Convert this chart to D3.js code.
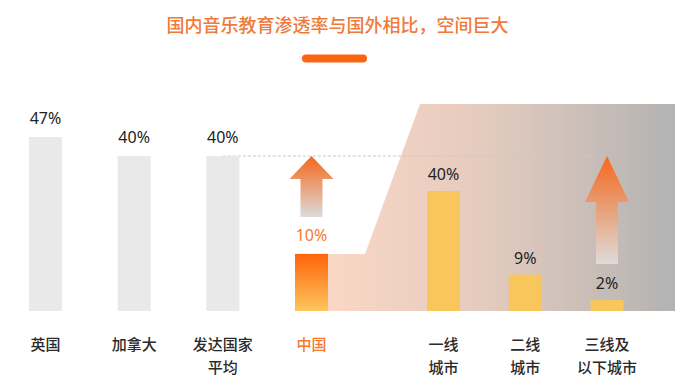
<!DOCTYPE html>
<html>
<head>
<meta charset="utf-8">
<script src="https://d3js.org/d3.v7.min.js"></script>
<style>
  body { margin: 0; background: #fff; }
  svg { display: block; }
</style>
</head>
<body>
<svg id="chart" width="675" height="385"></svg>
<script>
// data
var title = "国内音乐教育渗透率与国外相比，空间巨大";
var countryNames = ["英国", "加拿大", "发达国家平均", "中国"];
var countryValues = [47, 40, 40, 10];
var countryLines = [["英国"], ["加拿大"], ["发达国家", "平均"], ["中国"]];
var cityNames = ["一线城市", "二线城市", "三线及以下城市"];
var cityValues = [40, 9, 2];
var cityLines = [["一线", "城市"], ["二线", "城市"], ["三线及", "以下城市"]];

var svg = d3.select("#chart");
var baseY = 311, barW = 33;
var cjk = "'Noto Sans CJK SC', sans-serif";
var num = "'Noto Sans', 'Liberation Sans', sans-serif";

// scales (infographic style, compressed power scales)
var xC = d3.scalePoint().domain(countryNames).range([45.5, 311.5]);
var xT = d3.scalePoint().domain(cityNames).range([443.5, 607]);
var yC = d3.scalePow().exponent(0.72).domain([0, 47]).range([baseY, 137]);
var yT = d3.scalePow().exponent(0.8).domain([0, 40]).range([baseY, 191]);

var countries = countryNames.map(function (n, i) { return { name: n, value: countryValues[i], lines: countryLines[i] }; });
var cities = cityNames.map(function (n, i) { return { name: n, value: cityValues[i], lines: cityLines[i] }; });

var defs = svg.append("defs");
function grad(id, x1, y1, x2, y2, stops) {
  var g = defs.append("linearGradient").attr("id", id)
    .attr("x1", x1).attr("y1", y1).attr("x2", x2).attr("y2", y2);
  stops.forEach(function (s) {
    g.append("stop").attr("offset", s[0]).attr("stop-color", s[1]);
  });
}
grad("bgGrad", 0, 0, 1, 0, [[0, "#FAD7C5"], [0.45, "#E4CBBE"], [1, "#B3B3B3"]]);
grad("cnGrad", 0, 0, 0, 1, [[0, "#FF630A"], [1, "#FDC65E"]]);
grad("arrowGrad", 0, 0, 0, 1, [[0, "#F5671C"], [1, "#DDDBDA"]]);

// title
svg.append("text")
  .attr("x", 337.5).attr("y", 32)
  .attr("text-anchor", "middle")
  .style("font-family", cjk).style("font-size", "18px").style("font-weight", 500)
  .style("fill", "#EF7A3C")
  .text(title);
svg.append("rect")
  .attr("x", 302).attr("y", 54.5).attr("width", 65).attr("height", 8).attr("rx", 4)
  .style("fill", "#FA6511");

// background panel behind city bars
var cnRight = xC("中国") + barW / 2;
var cnTop = yC(10);
svg.append("path")
  .attr("d", d3.line()([[cnRight, baseY], [cnRight, cnTop], [365, cnTop], [420, 104], [675, 104], [675, baseY]]) + "Z")
  .style("fill", "url(#bgGrad)");

// dashed reference line at 40%
svg.append("line")
  .attr("x1", xC("发达国家平均")).attr("x2", xT("三线及以下城市") - 15)
  .attr("y1", yC(40)).attr("y2", yC(40))
  .style("stroke", "#C9C9C9").style("stroke-width", 1).style("stroke-dasharray", "3,2");

// bars
svg.selectAll(".cbar").data(countries).enter().append("rect")
  .attr("class", "cbar")
  .attr("x", function (d) { return xC(d.name) - barW / 2; })
  .attr("y", function (d) { return yC(d.value); })
  .attr("width", barW)
  .attr("height", function (d) { return baseY - yC(d.value); })
  .style("fill", function (d) { return d.name === "中国" ? "url(#cnGrad)" : "#E9E9E9"; });

svg.selectAll(".tbar").data(cities).enter().append("rect")
  .attr("class", "tbar")
  .attr("x", function (d) { return xT(d.name) - barW / 2; })
  .attr("y", function (d) { return yT(d.value); })
  .attr("width", barW)
  .attr("height", function (d) { return baseY - yT(d.value); })
  .style("fill", "#F9C65C");

// value labels
function valueLabels(data, x, y, cls, gap) {
  svg.selectAll("." + cls).data(data).enter().append("text")
    .attr("class", cls)
    .attr("x", function (d) { return x(d.name); })
    .attr("y", function (d) { return y(d.value) - gap; })
    .attr("text-anchor", "middle")
    .style("font-family", num).style("font-size", "16px").style("font-weight", 400)
    .style("fill", function (d) { return d.name === "中国" ? "#F37A30" : "#222"; })
    .text(function (d) { return d.value + "%"; });
}
valueLabels(countries, xC, yC, "cval", 13);
valueLabels(cities, xT, yT, "tval", 11);

// category labels
function catLabels(data, x, cls) {
  var t = svg.selectAll("." + cls).data(data).enter().append("text")
    .attr("class", cls)
    .attr("text-anchor", "middle")
    .style("font-family", cjk).style("font-size", "15px").style("font-weight", 500)
    .style("fill", function (d) { return d.name === "中国" ? "#F57A2B" : "#2A2A2A"; });
  t.selectAll("tspan").data(function (d) { return d.lines.map(function (l) { return { l: l, x: x(d.name) }; }); })
    .enter().append("tspan")
    .attr("x", function (d) { return d.x; })
    .attr("y", function (d, i) { return 350 + i * 22.5; })
    .text(function (d) { return d.l; });
}
catLabels(countries, xC, "clab");
catLabels(cities, xT, "tlab");

// growth arrows
function arrow(cx, tipY, headH, bottomY) {
  var hw = 22, sw = 11;
  var pts = [[cx, tipY], [cx + hw, tipY + headH], [cx + sw, tipY + headH], [cx + sw, bottomY],
             [cx - sw, bottomY], [cx - sw, tipY + headH], [cx - hw, tipY + headH]];
  svg.append("path")
    .attr("d", d3.line()(pts) + "Z")
    .style("fill", "url(#arrowGrad)");
}
arrow(xC("中国"), yC(40), 23, yC(10) - 37);
arrow(xT("三线及以下城市"), yC(40), 46, yT(2) - 36);
</script>
</body>
</html>
